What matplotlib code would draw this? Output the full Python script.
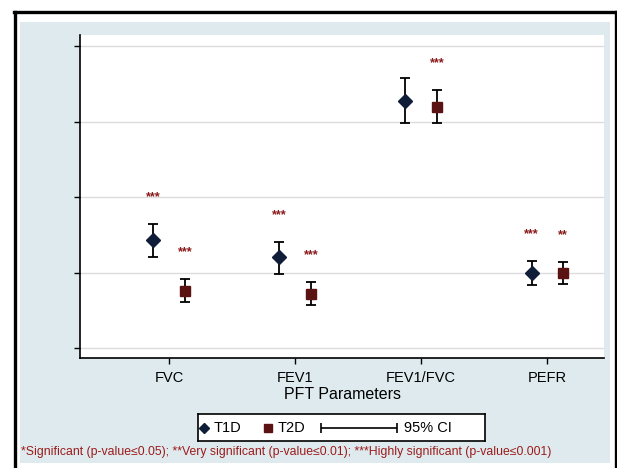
import matplotlib
matplotlib.use('Agg')
import matplotlib.pyplot as plt
from matplotlib.patches import Rectangle
from matplotlib.lines import Line2D
import numpy as np

plt.rcParams['font.family'] = ['Liberation Sans', 'DejaVu Sans']

# PFT parameters, % predicted
categories = ['FVC', 'FEV1', 'FEV1/FVC', 'PEFR']
t1d_mean = [74.3, 72.0, 92.7, 69.9]
t1d_lo = [72.0, 69.8, 89.8, 68.3]
t1d_hi = [76.4, 74.0, 95.7, 71.5]
t2d_mean = [67.6, 67.2, 91.9, 70.0]
t2d_lo = [66.1, 65.7, 89.8, 68.5]
t2d_hi = [69.2, 68.7, 94.2, 71.4]
t1d_sig = ['***', '***', '', '***']
t2d_sig = ['***', '***', '***', '**']
y_ticks = [60, 70, 80, 90, 100]

W, H = 617, 468
fig = plt.figure(figsize=(W / 100, H / 100), dpi=100)
fig.patch.set_facecolor('white')

# Stata-like background and outer frame
fig.add_artist(Rectangle((20 / W, 1 - 463 / H), 590 / W, 441 / H,
                         transform=fig.transFigure, facecolor='#dfeaee',
                         edgecolor='none', zorder=-1))
fig.add_artist(Line2D([14.5 / W, 14.5 / W], [0, 1 - 12 / H], color='black', lw=2.4,
                      transform=fig.transFigure))
fig.add_artist(Line2D([13.5 / W, 616.5 / W], [1 - 12 / H, 1 - 12 / H], color='black', lw=2.4,
                      transform=fig.transFigure))
fig.add_artist(Line2D([615.5 / W, 615.5 / W], [0, 1 - 12 / H], color='black', lw=2.4,
                      transform=fig.transFigure))

ax = fig.add_axes([80 / W, 1 - 358 / H, 524 / W, 323 / H])
ax.set_facecolor('white')

x = np.arange(1, len(categories) + 1)
off = 0.125
sig_color = '#8b1a1a'

for xs, mean, lo, hi, sig, mk, col, ms in [
        (x - off, t1d_mean, t1d_lo, t1d_hi, t1d_sig, 'D', '#0f1d38', 7.4),
        (x + off, t2d_mean, t2d_lo, t2d_hi, t2d_sig, 's', '#5a1212', 6.8)]:
    mean = np.array(mean)
    yerr = [mean - np.array(lo), np.array(hi) - mean]
    ax.errorbar(xs, mean, yerr=yerr, fmt='none', ecolor='black', elinewidth=1.3,
                capsize=3.3, capthick=1.3, zorder=3)
    ax.plot(xs, mean, linestyle='none', marker=mk, color=col, markersize=ms, zorder=4)
    for xi, h, s in zip(xs, hi, sig):
        if s:
            ax.annotate(s, (xi, h), xytext=(0, 15), textcoords='offset points',
                        ha='center', va='bottom', color=sig_color, fontsize=9,
                        fontweight='bold')

ax.set_xlim(0.294, 4.45)
ax.set_ylim(58.68, 101.46)
ax.set_yticks(y_ticks)
ax.set_yticklabels([])
ax.set_xticks(x)
ax.set_xticklabels(categories, fontsize=10.5)
ax.tick_params(axis='both', direction='out', length=4, width=1, color='black')
ax.tick_params(axis='x', pad=5)
ax.grid(axis='y', color='#dcdcdc', linewidth=1)
ax.set_axisbelow(True)
for side in ['top', 'right']:
    ax.spines[side].set_visible(False)
for side in ['left', 'bottom']:
    ax.spines[side].set_linewidth(1.2)
ax.set_xlabel('PFT Parameters', fontsize=11.5, labelpad=2)

# legend box
lax = fig.add_axes([198 / W, 1 - 441 / H, 287 / W, 27 / H])
lax.set_xlim(0, 287)
lax.set_ylim(0, 27)
lax.set_xticks([])
lax.set_yticks([])
lax.set_facecolor('white')
for sp in lax.spines.values():
    sp.set_linewidth(1.2)
lax.plot([6], [13.5], marker='D', color='#0f1d38', markersize=5)
lax.text(16, 13, 'T1D', fontsize=10.5, va='center')
lax.plot([70], [13.5], marker='s', color='#5a1212', markersize=5.5)
lax.text(80, 13, 'T2D', fontsize=10.5, va='center')
lax.errorbar([161], [13.5], xerr=[[38], [38]], fmt='none', ecolor='black',
             elinewidth=1.2, capsize=3.5, capthick=1.2)
lax.text(206, 13, '95% CI', fontsize=10.5, va='center')

fig.text(21 / W, 1 - 452 / H,
         '*Significant (p-value\u22640.05); **Very significant (p-value\u22640.01); '
         '***Highly significant (p-value\u22640.001)',
         color='#9b1b1b', fontsize=8.8, va='center', ha='left')

fig.savefig('out.png', dpi=100)
